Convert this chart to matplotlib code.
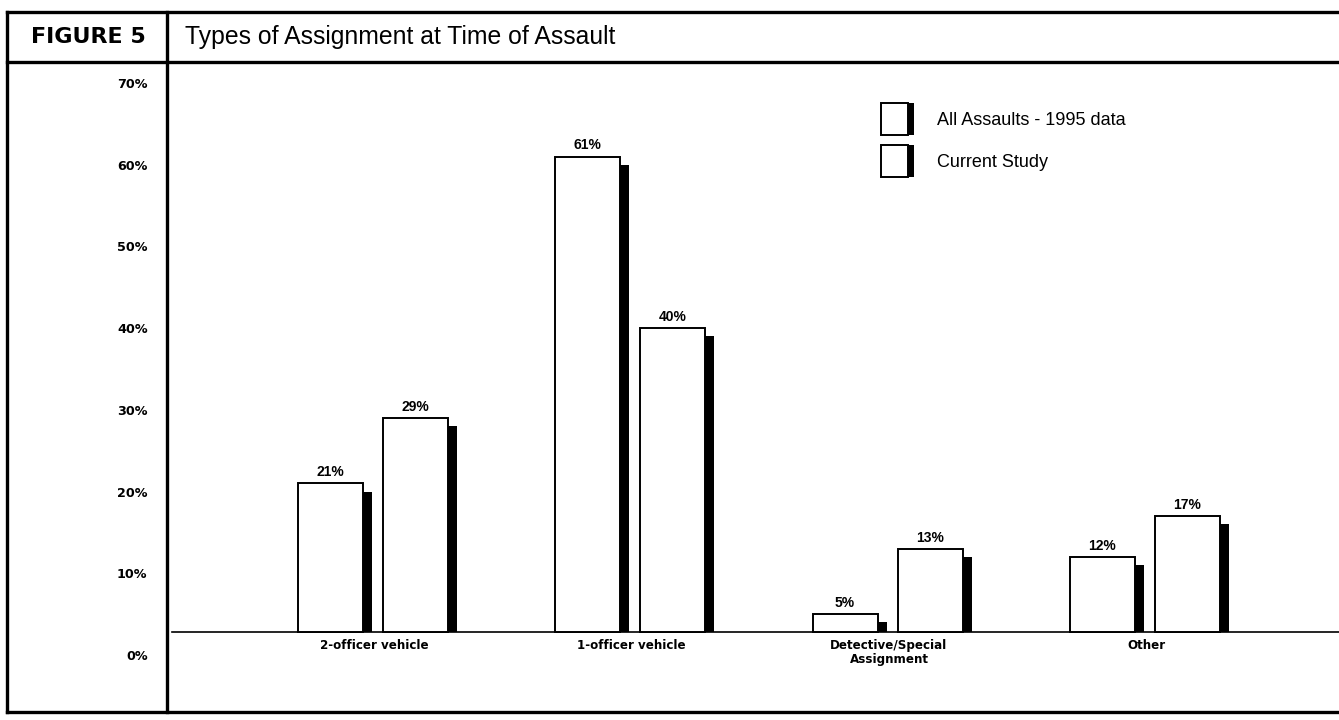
import numpy as np
import matplotlib
matplotlib.use('Agg')
import matplotlib.pyplot as plt
from matplotlib.lines import Line2D
from matplotlib.patches import Rectangle
from matplotlib.legend_handler import HandlerBase

# data
categories = ['2-officer vehicle', '1-officer vehicle', 'Detective/Special\nAssignment', 'Other']
all_assaults_1995 = [21, 61, 5, 12]
current_study = [29, 40, 13, 17]
series_names = ['All Assaults - 1995 data', 'Current Study']
ytick_vals = [0, 10, 20, 30, 40, 50, 60, 70]
ytick_labels = ['0%', '10%', '20%', '30%', '40%', '50%', '60%', '70%']

W, H = 1339, 720
plt.rcParams['font.family'] = ['Liberation Sans', 'DejaVu Sans']
heavy = ['DejaVu Sans']

fig = plt.figure(figsize=(W / 100, H / 100), dpi=100)
fig.patch.set_facecolor('white')


def fx(px):
    return px / W


def fy(py):
    return 1 - py / H


# plot area sits inside the frame, right of the label column
ax = fig.add_axes([fx(167), fy(712), fx(W) - fx(167), fy(62) - fy(712)])
ax.set_xlim(-0.816, 3.739)
ax.set_ylim(-6.98, 72.57)
for s in ax.spines.values():
    s.set_visible(False)

floor = 2.8      # the pseudo-3D floor the bars stand on
bw = 0.2526      # white face width
sw = 0.035       # black side width
off1, off2 = -0.307, 0.0233

x = np.arange(len(categories))
v1 = np.array(all_assaults_1995, dtype=float)
v2 = np.array(current_study, dtype=float)

ax.axhline(floor, xmin=5 / 1172, xmax=1, color='black', lw=1.2, zorder=1)

for off, vals in [(off1, v1), (off2, v2)]:
    ax.bar(x + off, vals - floor, bw, bottom=floor, align='edge',
           facecolor='white', edgecolor='black', lw=1.4, zorder=2)
    ax.bar(x + off + bw, vals - 1 - floor, sw, bottom=floor, align='edge',
           color='black', lw=0, zorder=2)
    for xi, v in zip(x + off + bw / 2, vals):
        ax.text(xi, v + 0.5, f'{v:.0f}%', ha='center', va='bottom',
                fontsize=10, fontweight='bold', color='black')

for xi, lab in zip(x, categories):
    ax.text(xi - 0.01, 2.0, lab, ha='center', va='top', fontsize=8.6,
            family=heavy, fontweight='bold', linespacing=1.1)

ax.set_xticks([])
ax.set_yticks(ytick_vals)
ax.set_yticklabels(ytick_labels, fontsize=9.2, fontweight='bold', family=heavy)
ax.tick_params(axis='y', length=0, pad=14)


class ShadowBox(HandlerBase):
    def create_artists(self, legend, orig, xd, yd, w, h, fontsize, trans):
        face = Rectangle((-xd, -yd), w - 4, h, facecolor='white', edgecolor='black',
                         lw=1.4, transform=trans)
        side = Rectangle((-xd + w - 4, -yd), 4, h, facecolor='black', edgecolor='none',
                         transform=trans)
        return [face, side]


handles = [Rectangle((0, 0), 1, 1), Rectangle((0, 0), 1, 1)]
ax.legend(handles, series_names, handler_map={Rectangle: ShadowBox()},
          loc='upper left', bbox_to_anchor=(fx(881), fy(103)), bbox_transform=fig.transFigure,
          frameon=False, fontsize=13, handlelength=1.8, handleheight=2.36,
          handletextpad=1.3, labelspacing=0.55, borderpad=0, borderaxespad=0)

# frame and header lines
lw = 2.4
frame = [
    ([7, W], [12, 12]),
    ([7, W], [62, 62]),
    ([7, W], [712, 712]),
    ([7, 7], [12, 712]),
    ([167, 167], [12, 712]),
]
for xs, ys in frame:
    fig.add_artist(Line2D([fx(v) for v in xs], [fy(v) for v in ys],
                          transform=fig.transFigure, color='black', lw=lw))

fig.text(fx(88), fy(37), 'FIGURE 5', ha='center', va='center', fontsize=16,
         family=heavy, fontweight='bold')
fig.text(fx(185), fy(37), 'Types of Assignment at Time of Assault', ha='left', va='center',
         fontsize=17.8)

fig.savefig('out.png', dpi=100)
